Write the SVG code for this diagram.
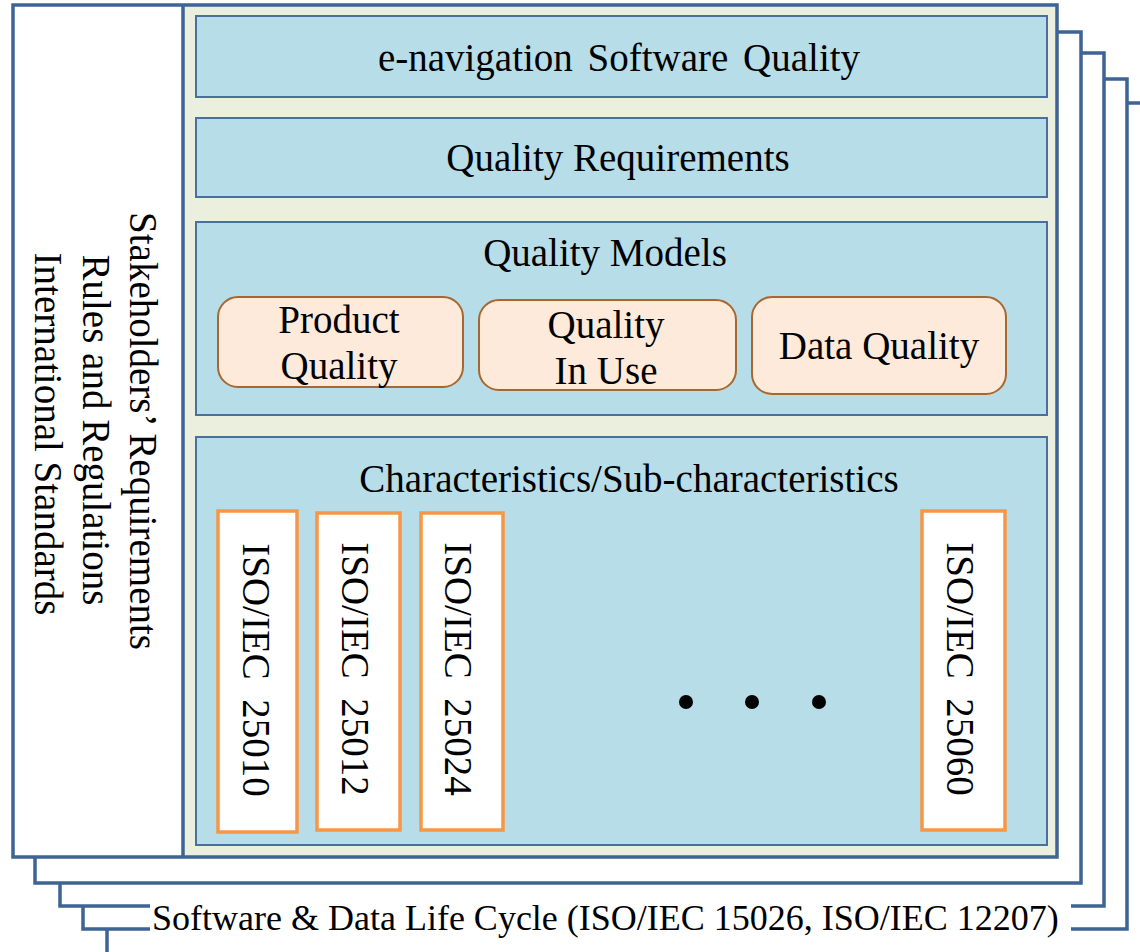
<svg xmlns="http://www.w3.org/2000/svg" width="1140" height="952" viewBox="0 0 1140 952">
<style>
.t{font-family:"Liberation Serif","Times New Roman",serif;font-size:39px;fill:#000;}
.frame{fill:none;stroke:#3E6494;stroke-width:3.5;stroke-linejoin:miter;}
.blue{fill:#B7DDE8;stroke:#4A6F9F;stroke-width:2;}
.model{fill:#FDEADA;stroke:#A8672F;stroke-width:2;}
.iso{fill:#FFFFFF;stroke:#F79646;stroke-width:3.5;}
</style>
<rect width="1140" height="952" fill="#FFFFFF"/>
<g id="pages">
<path class="frame" d="M1057,32 H1081 V883 H35 V857"/>
<path class="frame" d="M1081,53 H1104 V906 H1071 M150,906 H60 V883"/>
<path class="frame" d="M1104,79 H1127 V929 H1071 M150,929 H83 V906"/>
<path class="frame" d="M1127,103 H1145 M107,929 V955"/>
</g>
<g id="main-frame">
<rect x="183" y="5" width="874" height="852" fill="#EBF0DE"/>
<rect x="13" y="5" width="170" height="852" fill="#FFFFFF"/>
<rect class="frame" x="13" y="5" width="1044" height="852"/>
<line class="frame" x1="183" y1="5" x2="183" y2="857"/>
</g>
<g id="stakeholders">
<text class="t" text-anchor="middle" transform="translate(130,431) rotate(90)">Stakeholders’ Requirements</text>
<text class="t" text-anchor="middle" transform="translate(83,430) rotate(90)">Rules and Regulations</text>
<text class="t" text-anchor="middle" transform="translate(35,434) rotate(90)">International Standards</text>
</g>
<g id="e-navigation">
<rect class="blue" x="196" y="16" width="851" height="81"/>
<text class="t" x="619" y="71" text-anchor="middle" word-spacing="5">e-navigation Software Quality</text>
</g>
<g id="quality-requirements">
<rect class="blue" x="196" y="118" width="851" height="79"/>
<text class="t" x="618" y="171" text-anchor="middle">Quality Requirements</text>
</g>
<g id="quality-models">
<rect class="blue" x="196" y="222" width="851" height="193"/>
<text class="t" x="605" y="266" text-anchor="middle">Quality Models</text>
</g>
<g id="product-quality">
<rect class="model" x="218" y="297" width="245" height="90" rx="20"/>
<text class="t" x="339" y="333" text-anchor="middle">Product</text>
<text class="t" x="339" y="379" text-anchor="middle">Quality</text>
</g>
<g id="quality-in-use">
<rect class="model" x="479" y="300" width="257" height="90" rx="20"/>
<text class="t" x="606" y="338" text-anchor="middle">Quality</text>
<text class="t" x="606" y="384" text-anchor="middle">In Use</text>
</g>
<g id="data-quality">
<rect class="model" x="752" y="297" width="254" height="97" rx="20"/>
<text class="t" x="879" y="359" text-anchor="middle">Data Quality</text>
</g>
<g id="characteristics">
<rect class="blue" x="196" y="437" width="851" height="408"/>
<text class="t" x="629" y="492" text-anchor="middle">Characteristics/Sub-characteristics</text>
</g>
<g id="iso-25010">
<rect class="iso" x="218" y="511" width="79" height="321"/>
<text class="t" xml:space="preserve" text-anchor="middle" transform="translate(243,670) rotate(90)">ISO/IEC  25010</text>
</g>
<g id="iso-25012">
<rect class="iso" x="317" y="513" width="83" height="317"/>
<text class="t" xml:space="preserve" text-anchor="middle" transform="translate(342,669) rotate(90)">ISO/IEC  25012</text>
</g>
<g id="iso-25024">
<rect class="iso" x="421" y="513" width="82" height="317"/>
<text class="t" xml:space="preserve" text-anchor="middle" transform="translate(445,669) rotate(90)">ISO/IEC  25024</text>
</g>
<g id="ellipsis">
<circle cx="686" cy="702" r="7" fill="#000"/>
<circle cx="752" cy="702" r="7" fill="#000"/>
<circle cx="819" cy="702" r="7" fill="#000"/>
</g>
<g id="iso-25060">
<rect class="iso" x="922" y="511" width="83" height="319"/>
<text class="t" xml:space="preserve" text-anchor="middle" transform="translate(947,669) rotate(90)">ISO/IEC  25060</text>
</g>
<g id="life-cycle">
<text class="t" x="152" y="930" style="font-size:36px">Software &amp; Data Life Cycle (ISO/IEC 15026, ISO/IEC 12207)</text>
</g>
<g id="connectors"></g>
</svg>
